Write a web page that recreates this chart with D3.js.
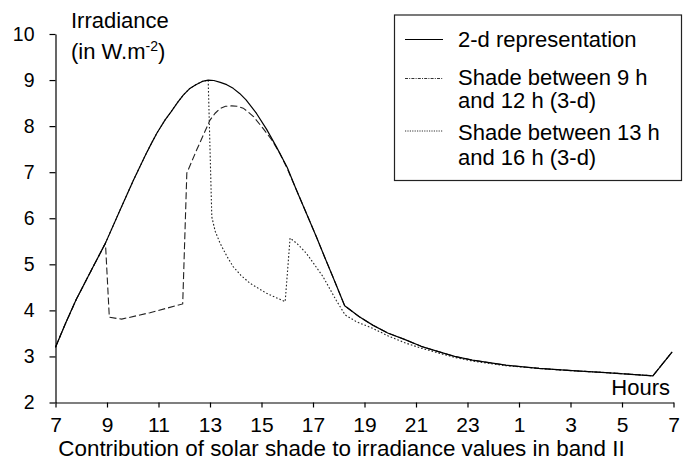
<!DOCTYPE html>
<html>
<head>
<meta charset="utf-8">
<script src="https://cdn.jsdelivr.net/npm/d3@7"></script>
<style>
  body { margin: 0; background: #fff; }
  svg { display: block; font-family: "Liberation Sans", Arial, sans-serif; }
</style>
</head>
<body>
<svg id="chart" width="695" height="465"></svg>
<script>
// ---- Data ----
const xTickValues = [7, 9, 11, 13, 15, 17, 19, 21, 23, 25, 27, 29, 31];
const xTickLabels = ["7", "9", "11", "13", "15", "17", "19", "21", "23", "1", "3", "5", "7"];
const yTickValues = [2, 3, 4, 5, 6, 7, 8, 9, 10];

// 2-d representation (solid)
const hours2d = [7, 7.4, 7.8, 8.4, 8.94, 9.5, 10.03, 10.5, 10.72, 10.94, 11.25, 11.5, 11.75, 11.97, 12.2, 12.45, 12.7, 12.93, 13.15, 13.4, 13.65, 13.9, 14.15, 14.4, 14.8, 15.2, 15.58, 16.0, 16.36, 16.75, 17.13, 17.45, 17.77, 18.23, 18.8, 19.32, 19.9, 20.6, 21.2, 21.9, 22.5, 23.19, 24.49, 25.77, 27.07, 28.36, 30.2, 30.95];
const irr2d   = [3.2, 3.73, 4.23, 4.88, 5.46, 6.17, 6.83, 7.38, 7.62, 7.85, 8.13, 8.32, 8.52, 8.68, 8.81, 8.9, 8.97, 9.0, 8.99, 8.95, 8.9, 8.82, 8.71, 8.57, 8.28, 7.93, 7.55, 7.1, 6.61, 6.1, 5.6, 5.16, 4.73, 4.1, 3.86, 3.68, 3.51, 3.36, 3.22, 3.1, 3.0, 2.92, 2.81, 2.74, 2.69, 2.65, 2.58, 3.1];

// Shade between 9 h and 12 h (3-d)
const hoursShade9 = [7, 7.4, 7.8, 8.4, 8.94, 9.09, 9.57, 10.67, 11.94, 12.1, 12.48, 13.0, 13.2, 13.39, 13.6, 13.84, 14.05, 14.29, 14.5, 14.7, 15.06, 15.4, 15.71, 16.0, 16.36, 16.75, 17.13, 17.45, 17.77, 18.23, 18.8, 19.32, 19.9, 20.6, 21.2, 21.9, 22.5, 23.19, 24.49, 25.77, 27.07, 28.36, 30.2, 30.95];
const irrShade9   = [3.2, 3.73, 4.23, 4.88, 5.46, 3.85, 3.81, 3.95, 4.14, 6.98, 7.48, 8.13, 8.28, 8.38, 8.43, 8.44, 8.43, 8.39, 8.3, 8.2, 7.95, 7.7, 7.41, 7.08, 6.61, 6.1, 5.6, 5.16, 4.73, 4.1, 3.86, 3.68, 3.51, 3.36, 3.22, 3.1, 3.0, 2.92, 2.81, 2.74, 2.69, 2.65, 2.58, 3.1];

// Shade between 13 h and 16 h (3-d)
const hoursShade13 = [7, 7.4, 7.8, 8.4, 8.94, 9.5, 10.03, 10.5, 10.72, 10.94, 11.25, 11.5, 11.75, 11.97, 12.2, 12.45, 12.7, 12.93, 13.07, 13.2, 13.39, 13.65, 13.9, 14.2, 14.55, 14.9, 15.2, 15.55, 15.92, 16.11, 16.4, 16.74, 17.05, 17.39, 17.65, 17.9, 18.25, 18.7, 19.32, 19.9, 20.6, 21.2, 21.9, 22.5, 23.19, 24.49, 25.77, 27.07, 28.36, 30.2, 30.95];
const irrShade13   = [3.2, 3.73, 4.23, 4.88, 5.46, 6.17, 6.83, 7.38, 7.62, 7.85, 8.13, 8.32, 8.52, 8.68, 8.81, 8.9, 8.97, 9.0, 6.03, 5.72, 5.46, 5.18, 4.95, 4.76, 4.59, 4.47, 4.37, 4.28, 4.19, 5.57, 5.44, 5.24, 5.0, 4.73, 4.47, 4.22, 3.9, 3.75, 3.61, 3.45, 3.29, 3.18, 3.07, 2.98, 2.9, 2.8, 2.74, 2.69, 2.65, 2.58, 3.1];

const legendLabels = [
  ["2-d representation"],
  ["Shade between 9 h", "and 12 h (3-d)"],
  ["Shade between 13 h", "and 16 h (3-d)"]
];

// ---- Drawing ----
const svg = d3.select("#chart");
const x = d3.scaleLinear().domain([7, 31]).range([55.5, 673.5]);
const y = d3.scaleLinear().domain([2, 10]).range([402.5, 34]);

const line = d3.line().x(d => x(d[0])).y(d => y(d[1])).curve(d3.curveLinear);
const zip = (a, b) => a.map((v, i) => [v, b[i]]);

// Series (3-d ones first so the 2-d solid is on top)
svg.append("path").datum(zip(hoursShade13, irrShade13))
  .attr("d", line).attr("fill", "none")
  .attr("stroke", "#222").attr("stroke-width", 1.1)
  .attr("stroke-dasharray", "1.6,2");
svg.append("path").datum(zip(hoursShade9, irrShade9))
  .attr("d", line).attr("fill", "none")
  .attr("stroke", "#222").attr("stroke-width", 1.1)
  .attr("stroke-dasharray", "7,3");
svg.append("path").datum(zip(hours2d, irr2d))
  .attr("d", line).attr("fill", "none")
  .attr("stroke", "#000").attr("stroke-width", 1.2)
  .attr("stroke-linejoin", "round");

// Axes
const xAxis = d3.axisBottom(x).tickValues(xTickValues)
  .tickFormat((d, i) => xTickLabels[i]).tickSize(5).tickSizeOuter(0);
const gx = svg.append("g").attr("transform", "translate(0,402.5)").call(xAxis);
gx.selectAll("text").attr("y", 29).attr("dy", 0)
  .style("font-size", "21px").attr("fill", "#000")
  .style("font-family", "'Liberation Sans', Arial, sans-serif");

const yAxis = d3.axisLeft(y).tickValues(yTickValues).tickSize(6).tickPadding(15).tickSizeOuter(0);
const gy = svg.append("g").attr("transform", "translate(55.5,0)").call(yAxis);
gy.selectAll("text").style("font-size", "19.5px").attr("fill", "#000")
  .style("font-family", "'Liberation Sans', Arial, sans-serif");

[gx, gy].forEach(g => {
  g.select(".domain").attr("stroke", "#000").attr("stroke-width", 1.2);
  g.selectAll(".tick line").attr("stroke", "#000").attr("stroke-width", 1.2);
});

// Titles
const yTitle = svg.append("g").style("font-size", "22px");
yTitle.append("text").attr("x", 71).attr("y", 28).text("Irradiance");
const t2 = yTitle.append("text").attr("x", 71).attr("y", 59);
t2.append("tspan").text("(in W.m");
t2.append("tspan").attr("dy", -8).style("font-size", "14px").text("-2");
t2.append("tspan").attr("dy", 8).text(")");

svg.append("text").attr("x", 670).attr("y", 395).attr("text-anchor", "end")
  .style("font-size", "22px").text("Hours");

svg.append("text").attr("x", 341.5).attr("y", 455.5).attr("text-anchor", "middle")
  .style("font-size", "22.4px").text("Contribution of solar shade to irradiance values in band II");

// Legend
const lg = svg.append("g");
lg.append("rect").attr("x", 394.5).attr("y", 15).attr("width", 287).attr("height", 165.5)
  .attr("fill", "#fff").attr("stroke", "#222").attr("stroke-width", 1.2);
const legendLineY = [39.5, 78.5, 131];
const legendBase = [[47], [85, 108], [139.5, 165]];
const legendDash = [null, "3,1.2,1,1.2", "1.2,1.2"];
legendLineY.forEach((ly, i) => {
  const l = lg.append("line").attr("x1", 405).attr("x2", 443).attr("y1", ly).attr("y2", ly)
    .attr("stroke", i === 0 ? "#000" : "#333").attr("stroke-width", i === 0 ? 1.2 : 1);
  if (legendDash[i]) l.attr("stroke-dasharray", legendDash[i]);
  legendLabels[i].forEach((txt, j) => {
    lg.append("text").attr("x", 458).attr("y", legendBase[i][j])
      .style("font-size", "22px").text(txt);
  });
});
</script>
</body>
</html>
